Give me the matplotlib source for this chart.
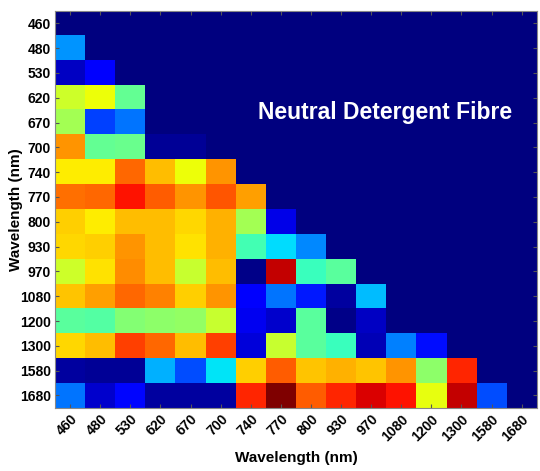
import numpy as np
import matplotlib
matplotlib.use("Agg")
import matplotlib.pyplot as plt

plt.rcParams['font.family'] = ['Liberation Sans', 'DejaVu Sans']

wavelengths = ["460", "480", "530", "620", "670", "700", "740", "770",
               "800", "930", "970", "1080", "1200", "1300", "1580", "1680"]

# lower triangle, row by row (row i has i values)
rows = [
    [],
    [0.27],
    [0.06, 0.12],
    [0.60, 0.64, 0.47],
    [0.55, 0.19, 0.24],
    [0.75, 0.47, 0.48, 0.02, 0.02],
    [0.66, 0.66, 0.80, 0.71, 0.64, 0.75],
    [0.79, 0.80, 0.89, 0.81, 0.75, 0.82, 0.74],
    [0.69, 0.66, 0.71, 0.71, 0.68, 0.72, 0.55, 0.09],
    [0.68, 0.69, 0.75, 0.71, 0.67, 0.72, 0.43, 0.34, 0.26],
    [0.60, 0.67, 0.76, 0.71, 0.59, 0.71, 0.01, 0.94, 0.42, 0.46],
    [0.70, 0.74, 0.80, 0.77, 0.69, 0.75, 0.11, 0.24, 0.15, 0.03, 0.31],
    [0.46, 0.45, 0.51, 0.52, 0.53, 0.59, 0.10, 0.07, 0.46, 0.01, 0.06, 0.0],
    [0.68, 0.71, 0.84, 0.80, 0.71, 0.84, 0.08, 0.59, 0.46, 0.42, 0.05, 0.25, 0.14],
    [0.03, 0.02, 0.02, 0.30, 0.20, 0.35, 0.69, 0.81, 0.70, 0.72, 0.70, 0.75, 0.52, 0.87],
    [0.24, 0.07, 0.13, 0.03, 0.03, 0.03, 0.87, 1.00, 0.81, 0.87, 0.92, 0.89, 0.63, 0.94, 0.20],
]

n = len(wavelengths)
mat = np.zeros((n, n))
for i, r in enumerate(rows):
    mat[i, :len(r)] = r

fig = plt.figure(figsize=(5.4, 4.71), dpi=100)
ax = fig.add_axes([0.102, 0.134, 0.892, 0.843])
ax.imshow(mat, cmap="jet", vmin=0, vmax=1, aspect="auto", interpolation="nearest")

ax.set_xticks(range(n))
ax.set_yticks(range(n))
ax.set_xticklabels(wavelengths, rotation=45, ha="right", rotation_mode="anchor",
                   fontsize=10, fontweight="bold")
ax.set_yticklabels(wavelengths, fontsize=10, fontweight="bold")
ax.tick_params(direction="in", top=True, right=True, length=3, color="#555555",
               pad=3)
for s in ax.spines.values():
    s.set_color("#888888")

ax.set_xlabel("Wavelength (nm)", fontsize=11, fontweight="bold", labelpad=5)
ax.set_ylabel("Wavelength (nm)", fontsize=11, fontweight="bold", labelpad=-2)

ax.text(0.685, 0.743, "Neutral Detergent Fibre", transform=ax.transAxes,
        color="white", fontsize=16.5, fontweight="bold", ha="center", va="center")

fig.savefig("out.png", dpi=100)
